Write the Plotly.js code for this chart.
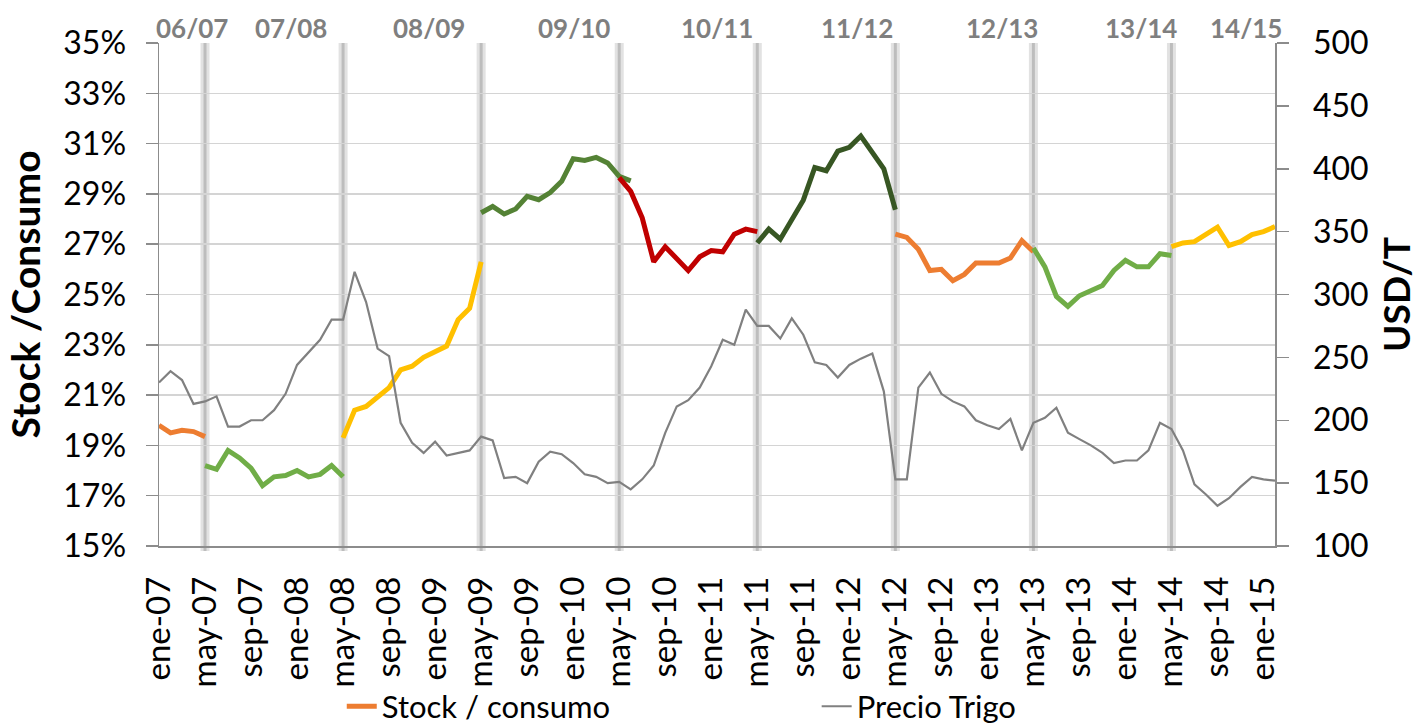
<!DOCTYPE html>
<html>
<head>
<meta charset="utf-8">
<script src="https://cdn.plot.ly/plotly-3.0.1.min.js"></script>
<style>html,body{margin:0;padding:0;background:#fff}#chart{width:1424px;height:724px}</style>
</head>
<body>
<div id="chart"></div>
<script>
// ---- categories (months) ----
const months = [
  'ene-07','feb-07','mar-07','abr-07','may-07','jun-07','jul-07','ago-07','sep-07','oct-07','nov-07','dic-07',
  'ene-08','feb-08','mar-08','abr-08','may-08','jun-08','jul-08','ago-08','sep-08','oct-08','nov-08','dic-08',
  'ene-09','feb-09','mar-09','abr-09','may-09','jun-09','jul-09','ago-09','sep-09','oct-09','nov-09','dic-09',
  'ene-10','feb-10','mar-10','abr-10','may-10','jun-10','jul-10','ago-10','sep-10','oct-10','nov-10','dic-10',
  'ene-11','feb-11','mar-11','abr-11','may-11','jun-11','jul-11','ago-11','sep-11','oct-11','nov-11','dic-11',
  'ene-12','feb-12','mar-12','abr-12','may-12','jun-12','jul-12','ago-12','sep-12','oct-12','nov-12','dic-12',
  'ene-13','feb-13','mar-13','abr-13','may-13','jun-13','jul-13','ago-13','sep-13','oct-13','nov-13','dic-13',
  'ene-14','feb-14','mar-14','abr-14','may-14','jun-14','jul-14','ago-14','sep-14','oct-14','nov-14','dic-14',
  'ene-15','feb-15'
];
const tickLabels = ['ene-07','may-07','sep-07','ene-08','may-08','sep-08','ene-09','may-09','sep-09',
  'ene-10','may-10','sep-10','ene-11','may-11','sep-11','ene-12','may-12','sep-12','ene-13','may-13',
  'sep-13','ene-14','may-14','sep-14','ene-15'];
const seasonBreaks = ['may-07','may-08','may-09','may-10','may-11','may-12','may-13','may-14'];
const seasonLabels = ['06/07','07/08','08/09','09/10','10/11','11/12','12/13','13/14','14/15'];

// ---- Precio Trigo (USD/T) ----
const precioTrigo = [
  230,239,232,213,215,219,195,195,200,200,208,221,
  244,254,264,280,280,318,294,257,251,198,182,174,
  183,172,174,176,187,184,154,155,150,167,175,173,
  166,157,155,150,151,145,153,164,190,211,216,226,
  243,264,260,288,275,275,265,281,268,246,244,234,
  244,249,253,223,153,153,226,238,221,215,211,200,
  196,193,201,176,198,202,210,190,185,180,174,166,
  168,168,176,198,193,176,149,141,132,138,147,155,
  153,152
];

// ---- Stock / consumo (%) by season ----
const stockStart = ['ene-07','may-07','may-08','may-09','may-10','may-11','may-12','may-13','may-14'];
const stock0607 = [19.8,19.5,19.6,19.55,19.35];
const stock0708 = [18.2,18.05,18.8,18.5,18.1,17.4,17.75,17.8,18.0,17.75,17.85,18.2,17.75];
const stock0809 = [19.3,20.4,20.55,20.9,21.3,22.0,22.15,22.5,22.7,22.95,24.0,24.45,26.3];
const stock0910 = [28.25,28.5,28.2,28.4,28.9,28.77,29.05,29.5,30.4,30.33,30.45,30.23,29.7,29.52];
const stock1011 = [29.65,29.1,28.05,26.3,26.9,26.4,25.95,26.5,26.75,26.7,27.4,27.6,27.5];
const stock1112 = [27.05,27.6,27.2,27.97,28.75,30.05,29.92,30.7,30.85,31.3,30.63,30.0,28.37];
const stock1213 = [27.4,27.27,26.8,25.95,26.0,25.55,25.8,26.25,26.25,26.25,26.45,27.14,26.7];
const stock1314 = [26.85,26.1,24.92,24.53,24.95,25.16,25.36,25.96,26.36,26.1,26.1,26.62,26.55];
const stock1415 = [26.9,27.05,27.1,27.38,27.68,26.95,27.1,27.38,27.5,27.7];

const stockSeries = [stock0607,stock0708,stock0809,stock0910,stock1011,stock1112,stock1213,stock1314,stock1415];
const seasonColors = ['#ED7D31','#70AD47','#FFC000','#548235','#C00000','#375623','#ED7D31','#70AD47','#FFC000'];

const FONT = 'Lato, "Open Sans", sans-serif';

const traces = [];
stockSeries.forEach((vals, i) => {
  const s = months.indexOf(stockStart[i]);
  traces.push({
    type: 'scatter', mode: 'lines',
    x: months.slice(s, s + vals.length), y: vals,
    name: 'Stock / consumo',
    showlegend: i === 0, legend: 'legend',
    line: {color: seasonColors[i], width: 5, shape: 'linear'},
    hoverinfo: 'x+y'
  });
});
traces.push({
  type: 'scatter', mode: 'lines',
  x: months, y: precioTrigo, yaxis: 'y2',
  name: 'Precio Trigo', legend: 'legend2',
  line: {color: '#808080', width: 2.2}
});

const shapes = [];
seasonBreaks.forEach(m => {
  const xi = months.indexOf(m);
  shapes.push({type:'line', xref:'x', yref:'paper', x0:xi, x1:xi, y0:-0.01, y1:1, layer:'below',
    line:{color:'#e2e2e2', width:9}});
  shapes.push({type:'line', xref:'x', yref:'paper', x0:xi, x1:xi, y0:-0.01, y1:1, layer:'below',
    line:{color:'#bdbdbd', width:3}});
});

const seasonX = [2.84, 11.46, 23.44, 36.03, 48.54, 60.66, 73.3, 85.38, 94.5];
const annotations = seasonLabels.map((t, i) => ({
  text: '<b>' + t + '</b>', xref:'x', yref:'paper', x: seasonX[i], y: 1.03,
  xanchor:'center', yanchor:'middle', showarrow:false,
  font:{family:FONT, size:26, color:'#7f7f7f'}
}));

const layout = {
  width: 1424, height: 724,
  margin: {l:159, r:149, t:43, b:178},
  paper_bgcolor:'#fff', plot_bgcolor:'#fff',
  font: {family: FONT, color:'#000'},
  xaxis: {
    type:'category', categoryorder:'array', categoryarray: months,
    range:[0, months.length - 1],
    tickmode:'array', tickvals: tickLabels, ticktext: tickLabels,
    tickangle:-90, tickfont:{size:33, family:FONT, color:'#000'},
    ticks:'', ticklabelstandoff: 16,
    showgrid:false, zeroline:false,
    showline:true, linecolor:'#8c8c8c', linewidth:1.5
  },
  yaxis: {
    range:[15,35], dtick:2, tick0:15, ticksuffix:'%',
    tickfont:{size:32, family:FONT, color:'#000'},
    ticks:'outside', ticklen:12, tickcolor:'#8c8c8c', tickwidth:1.5,
    ticklabelstandoff: 13,
    showgrid:true, gridcolor:'#d4d4d4', gridwidth:1.5,
    zeroline:false, showline:true, linecolor:'#8c8c8c', linewidth:1.5,
    title:{text:'<b>Stock /Consumo</b>', font:{size:39, family:FONT, color:'#000'}, standoff:10}
  },
  yaxis2: {
    overlaying:'y', side:'right', range:[100,500], dtick:50, tick0:100,
    tickfont:{size:32, family:FONT, color:'#000'},
    ticks:'outside', ticklen:12, tickcolor:'#8c8c8c', tickwidth:1.5,
    ticklabelstandoff: 18,
    showgrid:false, zeroline:false, showline:true, linecolor:'#8c8c8c', linewidth:1.5,
    title:{text:'<b>USD/T</b>', font:{size:37, family:FONT, color:'#000'}, standoff:16}
  },
  legend: {
    orientation:'h', xref:'container', yref:'container', x:0.240, y:0.024,
    xanchor:'left', yanchor:'middle', bgcolor:'rgba(0,0,0,0)',
    font:{size:31, family:FONT, color:'#000'}
  },
  legend2: {
    orientation:'h', xref:'container', yref:'container', x:0.5735, y:0.024,
    xanchor:'left', yanchor:'middle', bgcolor:'rgba(0,0,0,0)',
    font:{size:31, family:FONT, color:'#000'}
  },
  shapes: shapes,
  annotations: annotations,
  showlegend: true
};

Plotly.newPlot('chart', traces, layout, {displayModeBar:false, staticPlot:true});
</script>
</body>
</html>
